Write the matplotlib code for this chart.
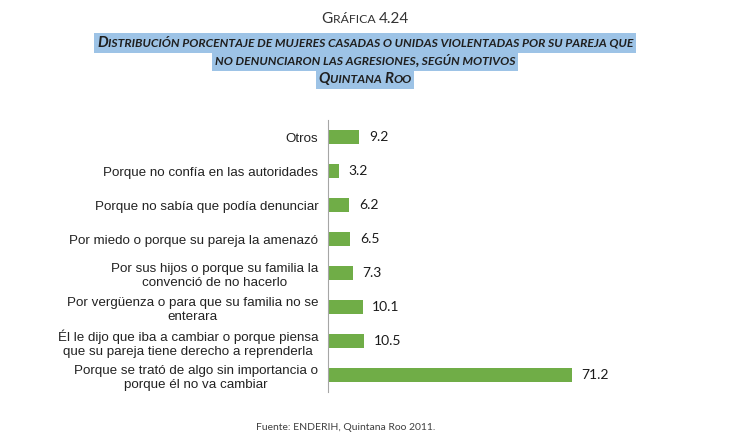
import matplotlib.pyplot as plt
from matplotlib.offsetbox import TextArea, HPacker, AnnotationBbox

motivos = ['Otros',
           'Porque no confía en las autoridades',
           'Porque no sabía que podía denunciar',
           'Por miedo o porque su pareja la amenazó',
           'Por sus hijos o porque su familia la\nconvenció de no hacerlo',
           'Por vergüenza o para que su familia no se\nenterara',
           'Él le dijo que iba a cambiar o porque piensa\nque su pareja tiene derecho a reprenderla',
           'Porque se trató de algo sin importancia o\nporque él no va cambiar']
porcentajes = [9.2, 3.2, 6.2, 6.5, 7.3, 10.1, 10.5, 71.2]

titulos = ['Distribución porcentaje de mujeres casadas o unidas violentadas por su pareja que',
           'no denunciaron las agresiones, según motivos',
           'Quintana Roo']

verde = '#70ad47'
azul = '#9dc3e6'


def versalitas(texto, grande, chica, **kw):
    # small caps: lowercase letters drawn as smaller capitals
    partes = []
    actual, es_chica = '', None
    for c in texto:
        ch = c.islower() or c == ' '
        if es_chica is None or ch == es_chica:
            actual += c
        else:
            partes.append((actual, es_chica))
            actual = c
        es_chica = ch
    partes.append((actual, es_chica))
    hijos = [TextArea(t.upper(), textprops=dict(fontsize=chica if s else grande, **kw))
             for t, s in partes]
    return HPacker(children=hijos, align='baseline', pad=0, sep=0)


fig = plt.figure(figsize=(7.3, 4.43), dpi=100)
ax = fig.add_axes([0.4493, 0.115, 0.3753, 0.614])

y = range(len(motivos))
ax.barh(y, porcentajes, height=0.4, color=verde)
ax.set_xlim(0, 80)
ax.set_ylim(len(motivos) - 0.5, -0.5)
ax.set_yticks(list(y))
ax.set_yticklabels(motivos, fontsize=9.6, family='Liberation Sans', color='#222222',
                   linespacing=1.25)
for t in ax.get_yticklabels():
    t.set_multialignment('center')
ax.tick_params(axis='y', length=0, pad=7)
ax.set_xticks([])
for s in ['top', 'right', 'bottom']:
    ax.spines[s].set_visible(False)
ax.spines['left'].set_color('#a6a6a6')

for i, v in enumerate(porcentajes):
    ax.annotate(f'{v:.1f}', (v, i), xytext=(7, 0), textcoords='offset points',
                va='center', ha='left', fontsize=10, family='Lato', color='#1a1a1a')

cab = versalitas('Gráfica 4.24', 11, 8.8, family='Lato', color='#333333')
fig.add_artist(AnnotationBbox(cab, (0.5, 0.958), xycoords='figure fraction',
                              frameon=False, box_alignment=(0.5, 0.5)))

for texto, yy in zip(titulos, [0.903, 0.862, 0.821]):
    caja = versalitas(texto, 10.9, 8.7, family='Lato', style='italic',
                      weight='bold', color='#1f1f1f')
    fig.add_artist(AnnotationBbox(caja, (0.5, yy), xycoords='figure fraction',
                                  frameon=True, box_alignment=(0.5, 0.5), pad=0.2,
                                  bboxprops=dict(facecolor=azul, edgecolor='none')))

fig.text(0.474, 0.036, 'Fuente: ENDERIH, Quintana Roo 2011.', ha='center', va='center',
         fontsize=7.5, family='Lato', color='#404040')

plt.savefig('out.png', dpi=100)
